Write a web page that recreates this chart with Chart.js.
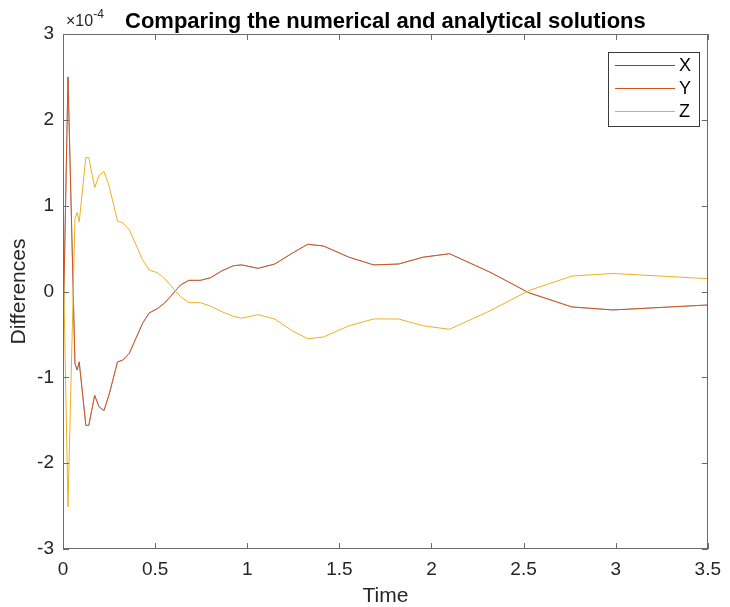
<!DOCTYPE html>
<html>
<head>
<meta charset="utf-8">
<script src="https://cdn.jsdelivr.net/npm/chart.js@4/dist/chart.umd.min.js"></script>
<style>
html,body{margin:0;padding:0;background:#fff;}
#wrap{width:730px;height:607px;position:relative;}
</style>
</head>
<body>
<div id="wrap"><canvas id="c" width="730" height="607"></canvas></div>
<script>
// Data (difference values in units of 1e-4)
const EXPONENT = -4;
const timePoints = [0, 0.027, 0.065, 0.077, 0.088, 0.124, 0.14, 0.172, 0.195, 0.222, 0.249, 0.296, 0.324, 0.36, 0.432, 0.468, 0.512, 0.552, 0.638, 0.683, 0.746, 0.80, 0.862, 0.925, 0.969, 1.059, 1.149, 1.247, 1.328, 1.414, 1.552, 1.686, 1.821, 1.955, 2.098, 2.323, 2.528, 2.762, 2.985, 3.5];
const diffY = [-0.565, 2.50, -0.84, -0.915, -0.82, -1.56, -1.56, -1.21, -1.34, -1.39, -1.21, -0.82, -0.80, -0.72, -0.37, -0.25, -0.20, -0.134, 0.076, 0.13, 0.13, 0.16, 0.24, 0.30, 0.31, 0.27, 0.32, 0.45, 0.55, 0.53, 0.40, 0.31, 0.32, 0.40, 0.44, 0.22, -0.014, -0.18, -0.215, -0.157];
const diffX = diffY.slice(); // X is hidden underneath Y in the reference
const diffZ = [0.56, -2.51, 0.85, 0.92, 0.81, 1.56, 1.56, 1.21, 1.35, 1.40, 1.24, 0.82, 0.80, 0.72, 0.37, 0.25, 0.22, 0.15, -0.06, -0.13, -0.13, -0.17, -0.235, -0.29, -0.31, -0.27, -0.32, -0.46, -0.55, -0.53, -0.40, -0.32, -0.32, -0.40, -0.44, -0.22, 0.01, 0.18, 0.21, 0.15];
const seriesNames = ['X', 'Y', 'Z'];
const xTicks = [0, 0.5, 1, 1.5, 2, 2.5, 3, 3.5];
const yTicks = [-3, -2, -1, 0, 1, 2, 3];
const titleText = 'Comparing the numerical and analytical solutions';
const xLabel = 'Time';
const yLabel = 'Differences';

const colors = ['#0072BD', '#D95319', '#EDB120'];
const widths = [0.5, 1, 1];
const FONT = '"Liberation Sans", Arial, Helvetica, sans-serif';
const AXIS = '#262626';

function pts(arr){ return timePoints.map((t,i)=>({x:t, y:arr[i]})); }

const decor = {
  id: 'decor',
  afterDraw(chart){
    const ctx = chart.ctx, a = chart.chartArea;
    const xs = chart.scales.x, ys = chart.scales.y;
    ctx.save();
    // box
    ctx.strokeStyle = '#6b6b6b'; ctx.lineWidth = 1;
    ctx.strokeRect(Math.round(a.left)+0.5, Math.round(a.top)+0.5, Math.round(a.right-a.left)-1, Math.round(a.bottom-a.top)-1);
    // inward ticks
    const tl = 6;
    ctx.beginPath();
    xTicks.forEach(v=>{
      const px = Math.round(xs.getPixelForValue(v))+0.5;
      ctx.moveTo(px, a.bottom); ctx.lineTo(px, a.bottom-tl);
      ctx.moveTo(px, a.top); ctx.lineTo(px, a.top+tl);
    });
    yTicks.forEach(v=>{
      const py = Math.round(ys.getPixelForValue(v))+0.5;
      ctx.moveTo(a.left, py); ctx.lineTo(a.left+tl, py);
      ctx.moveTo(a.right, py); ctx.lineTo(a.right-tl, py);
    });
    ctx.stroke();
    // title
    ctx.fillStyle = '#000';
    ctx.font = 'bold 22px ' + FONT;
    ctx.textAlign = 'center'; ctx.textBaseline = 'alphabetic';
    ctx.fillText(titleText, (a.left+a.right)/2, 28);
    // exponent
    ctx.fillStyle = AXIS;
    ctx.font = '16px ' + FONT;
    ctx.textAlign = 'left';
    ctx.fillText('\u00d710', 66, 26);
    const w = ctx.measureText('\u00d710').width;
    ctx.font = '12px ' + FONT;
    ctx.fillText(String(EXPONENT), 66 + w, 18);
    // legend
    const lx = 608, ly = 52, lw = 91, lh = 74;
    ctx.fillStyle = '#fff';
    ctx.fillRect(lx, ly, lw, lh);
    ctx.strokeStyle = '#3a3a3a'; ctx.lineWidth = 1;
    ctx.strokeRect(lx+0.5, ly+0.5, lw, lh);
    ctx.font = '18px ' + FONT;
    ctx.textBaseline = 'middle'; ctx.textAlign = 'left';
    chart.data.datasets.forEach((ds, i)=>{
      const y = ly + 13 + i*23;
      ctx.strokeStyle = ds.borderColor; ctx.lineWidth = 1;
      ctx.beginPath(); ctx.moveTo(lx+7, y+0.5); ctx.lineTo(lx+67, y+0.5); ctx.stroke();
      ctx.fillStyle = '#000';
      ctx.fillText(ds.label, lx+71, y+1);
    });
    ctx.restore();
  }
};

new Chart(document.getElementById('c'), {
  type: 'line',
  data: {
    datasets: [diffX, diffY, diffZ].map((arr, i)=>({
      label: seriesNames[i],
      data: pts(arr),
      borderColor: colors[i],
      backgroundColor: colors[i],
      borderWidth: widths[i],
      pointRadius: 0,
      tension: 0,
      fill: false,
      order: 3 - i
    }))
  },
  options: {
    responsive: false,
    animation: false,
    events: [],
    layout: { padding: { top: 34, right: 16, left: 0, bottom: 0 } },
    plugins: { legend: { display: false }, tooltip: { enabled: false }, title: { display: false } },
    scales: {
      x: {
        type: 'linear', min: 0, max: 3.5,
        afterBuildTicks: s => { s.ticks = xTicks.map(v=>({value:v})); },
        afterFit: s => { s.height = 58; },
        grid: { display: false, drawTicks: false },
        border: { display: false },
        ticks: { color: AXIS, font: { family: FONT, size: 19 }, padding: 9, maxRotation: 0,
                 callback: v => String(v) },
        title: { display: true, text: xLabel, color: AXIS, font: { family: FONT, size: 21, lineHeight: 1 }, padding: { top: 0, bottom: 0 } }
      },
      y: {
        type: 'linear', min: -3, max: 3,
        afterBuildTicks: s => { s.ticks = yTicks.map(v=>({value:v})); },
        afterFit: s => { s.width = 63; },
        grid: { display: false, drawTicks: false },
        border: { display: false },
        ticks: { color: AXIS, font: { family: FONT, size: 19 }, padding: 9,
                 callback: v => String(v) },
        title: { display: true, text: yLabel, color: AXIS, font: { family: FONT, size: 21, lineHeight: 1 }, padding: { top: 9, bottom: 0 } }
      }
    }
  },
  plugins: [decor]
});
</script>
</body>
</html>
